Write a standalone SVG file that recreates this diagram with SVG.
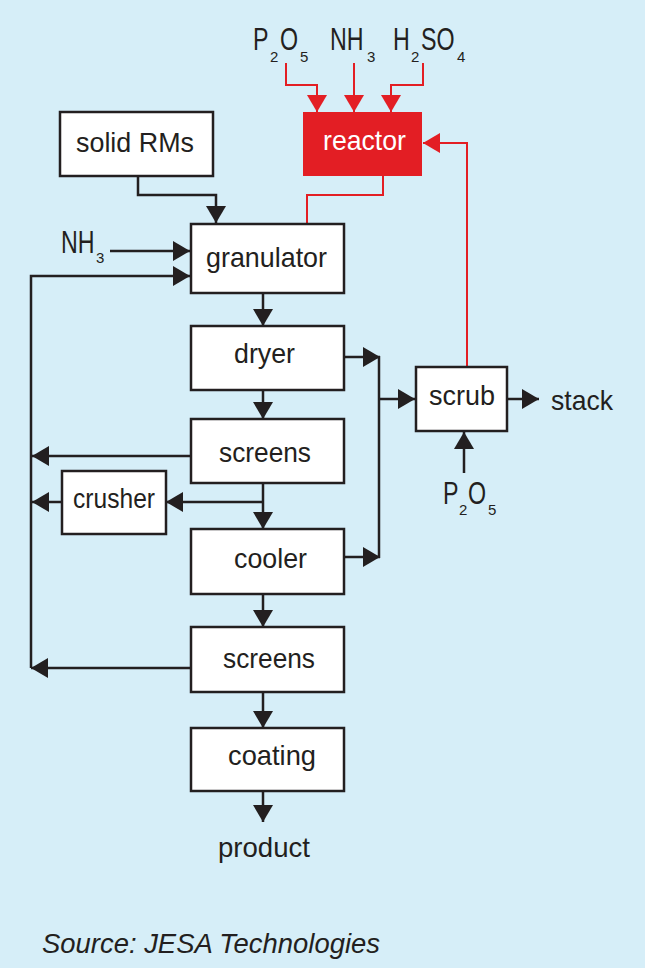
<svg xmlns="http://www.w3.org/2000/svg" width="645" height="968" viewBox="0 0 645 968">
<style>
.bg{fill:#D6EEF8}
.box{fill:#FFFFFF;stroke:#231F20;stroke-width:2.5}
.rbox{fill:#E31E24}
.lbl{font-family:"Liberation Sans",Arial,sans-serif;font-size:28px;fill:#231F20;text-anchor:middle}
.wlbl{font-family:"Liberation Sans",Arial,sans-serif;font-size:28px;fill:#FFFFFF;text-anchor:middle}
.chem{font-family:"Liberation Sans",Arial,sans-serif;font-size:31px;fill:#231F20}
.sub{font-family:"Liberation Sans",Arial,sans-serif;font-size:15px;fill:#231F20}
.src{font-family:"Liberation Sans",Arial,sans-serif;font-size:27px;font-style:italic;fill:#231F20}
.k{fill:none;stroke:#231F20;stroke-width:2.5}
.r{fill:none;stroke:#E31E24;stroke-width:2}
</style>
<defs>
<marker id="ak" markerUnits="userSpaceOnUse" markerWidth="18" markerHeight="20" refX="17" refY="10" orient="auto" viewBox="0 0 18 20">
<path d="M0,0 L17,10 L0,20 Z" fill="#231F20"/>
</marker>
<marker id="ar" markerUnits="userSpaceOnUse" markerWidth="18" markerHeight="20" refX="17" refY="10" orient="auto" viewBox="0 0 18 20">
<path d="M0,0 L17,10 L0,20 Z" fill="#E31E24"/>
</marker>
</defs>
<rect class="bg" x="0" y="0" width="645" height="968"/>

<g id="connectors">
<path class="r" d="M286,63 V85 H317 V112" marker-end="url(#ar)"/>
<path class="r" d="M354,63 V112" marker-end="url(#ar)"/>
<path class="r" d="M423,63 V85 H391 V112" marker-end="url(#ar)"/>
<path class="r" d="M383,176 V195 H307 V224"/>
<path class="r" d="M467,367 V143 H423" marker-end="url(#ar)"/>
<path class="k" d="M138,176 V195 H216 V223" marker-end="url(#ak)"/>
<path class="k" d="M110,251 H190" marker-end="url(#ak)"/>
<path class="k" d="M31,668 V276 H190" marker-end="url(#ak)"/>
<path class="k" d="M263,293 V326" marker-end="url(#ak)"/>
<path class="k" d="M263,390 V419" marker-end="url(#ak)"/>
<path class="k" d="M263,483 V529" marker-end="url(#ak)"/>
<path class="k" d="M263,502 H166" marker-end="url(#ak)"/>
<path class="k" d="M191,456 H32" marker-end="url(#ak)"/>
<path class="k" d="M62,502 H32" marker-end="url(#ak)"/>
<path class="k" d="M191,668 H31" marker-end="url(#ak)"/>
<path class="k" d="M263,594 V627" marker-end="url(#ak)"/>
<path class="k" d="M263,692 V728" marker-end="url(#ak)"/>
<path class="k" d="M263,791 V822" marker-end="url(#ak)"/>
<path class="k" d="M344,357 H380" marker-end="url(#ak)"/>
<path class="k" d="M344,557 H380" marker-end="url(#ak)"/>
<path class="k" d="M379,356 V558"/>
<path class="k" d="M379,399 H415" marker-end="url(#ak)"/>
<path class="k" d="M507,399 H539" marker-end="url(#ak)"/>
<path class="k" d="M464,473 V432" marker-end="url(#ak)"/>
</g>

<g id="reactor">
<rect class="rbox" x="303" y="112" width="119" height="64"/>
<text class="wlbl" x="364.5" y="150" textLength="83" lengthAdjust="spacingAndGlyphs">reactor</text>
</g>
<g id="solid-rms">
<rect class="box" x="60" y="112" width="153" height="64"/>
<text class="lbl" x="135" y="152" textLength="118" lengthAdjust="spacingAndGlyphs">solid RMs</text>
</g>
<g id="granulator">
<rect class="box" x="191" y="224" width="153" height="69"/>
<text class="lbl" x="266.5" y="267" textLength="121" lengthAdjust="spacingAndGlyphs">granulator</text>
</g>
<g id="dryer">
<rect class="box" x="191" y="326" width="153" height="64"/>
<text class="lbl" x="264.5" y="363" textLength="61" lengthAdjust="spacingAndGlyphs">dryer</text>
</g>
<g id="screens1">
<rect class="box" x="191" y="419" width="153" height="64"/>
<text class="lbl" x="265" y="462" textLength="92" lengthAdjust="spacingAndGlyphs">screens</text>
</g>
<g id="crusher">
<rect class="box" x="62" y="471" width="104" height="63"/>
<text class="lbl" x="114" y="508" textLength="82" lengthAdjust="spacingAndGlyphs">crusher</text>
</g>
<g id="cooler">
<rect class="box" x="191" y="529" width="153" height="65"/>
<text class="lbl" x="270.5" y="568" textLength="73" lengthAdjust="spacingAndGlyphs">cooler</text>
</g>
<g id="screens2">
<rect class="box" x="191" y="627" width="153" height="65"/>
<text class="lbl" x="269" y="668" textLength="92" lengthAdjust="spacingAndGlyphs">screens</text>
</g>
<g id="coating">
<rect class="box" x="191" y="728" width="153" height="63"/>
<text class="lbl" x="272" y="765" textLength="88" lengthAdjust="spacingAndGlyphs">coating</text>
</g>
<g id="scrub">
<rect class="box" x="416" y="367" width="91" height="64"/>
<text class="lbl" x="462" y="405" textLength="66" lengthAdjust="spacingAndGlyphs">scrub</text>
</g>
<g id="stack">
<text class="lbl" x="582" y="410" textLength="62" lengthAdjust="spacingAndGlyphs">stack</text>
</g>
<g id="product">
<text class="lbl" x="264" y="857" textLength="92" lengthAdjust="spacingAndGlyphs">product</text>
</g>

<g id="p2o5-top">
<text class="chem" transform="translate(253,50) scale(0.75,1)">P</text>
<text class="sub" x="270" y="62">2</text>
<text class="chem" transform="translate(280,50) scale(0.75,1)">O</text>
<text class="sub" x="300" y="62">5</text>
</g>
<g id="nh3-top">
<text class="chem" transform="translate(330,50) scale(0.75,1)">NH</text>
<text class="sub" x="367" y="62">3</text>
</g>
<g id="h2so4-top">
<text class="chem" transform="translate(393,50) scale(0.75,1)">H</text>
<text class="sub" x="411" y="62">2</text>
<text class="chem" transform="translate(421,50) scale(0.75,1)">SO</text>
<text class="sub" x="457" y="62">4</text>
</g>
<g id="nh3-left">
<text class="chem" transform="translate(61,253) scale(0.75,1)">NH</text>
<text class="sub" x="96" y="263">3</text>
</g>
<g id="p2o5-scrub">
<text class="chem" transform="translate(443,504) scale(0.75,1)">P</text>
<text class="sub" x="459" y="515">2</text>
<text class="chem" transform="translate(468,504) scale(0.75,1)">O</text>
<text class="sub" x="488" y="515">5</text>
</g>

<text class="src" x="42" y="953" textLength="338" lengthAdjust="spacingAndGlyphs">Source: JESA Technologies</text>
</svg>
